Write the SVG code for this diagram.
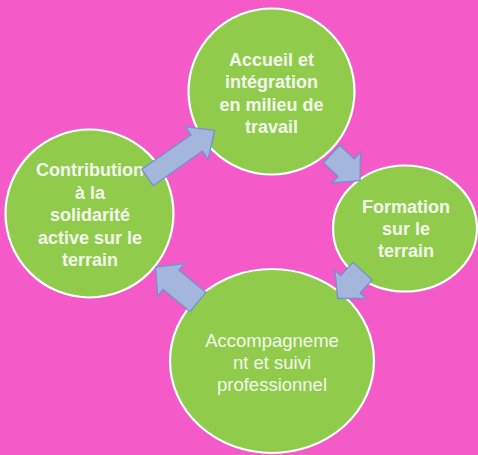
<svg xmlns="http://www.w3.org/2000/svg" width="478" height="455" viewBox="0 0 478 455">
  <style>
    .node { fill: #91CB4C; stroke: #FFFFFF; stroke-width: 2.2; }
    .lb { font-family: "Liberation Sans", Arial, sans-serif; font-size: 18px; font-weight: bold; fill: #F3F8EC; text-anchor: middle; }
    .lr { font-family: "Liberation Sans", Arial, sans-serif; font-size: 18.5px; fill: #F3F8EC; text-anchor: middle; }
    .arrow { fill: #A4B6DC; stroke: #7290D0; stroke-width: 1.3; stroke-linejoin: miter; }
  </style>
  <rect x="0" y="0" width="478" height="455" fill="#F45AC8"/>

  <g id="node-accueil">
    <circle class="node" cx="271.5" cy="91.5" r="83"/>
    <text class="lb" x="271.5" y="66">Accueil et</text>
    <text class="lb" x="271.5" y="88">intégration</text>
    <text class="lb" x="271.5" y="110.5">en milieu de</text>
    <text class="lb" x="271.5" y="133">travail</text>
  </g>

  <g id="node-formation">
    <ellipse class="node" cx="405" cy="228.5" rx="72" ry="63"/>
    <text class="lb" x="406" y="212.5">Formation</text>
    <text class="lb" x="406" y="234.5">sur le</text>
    <text class="lb" x="406" y="257">terrain</text>
  </g>

  <g id="node-accompagnement">
    <ellipse class="node" cx="272" cy="361" rx="102" ry="92"/>
    <text class="lr" x="272" y="346.5">Accompagneme</text>
    <text class="lr" x="272" y="369">nt et suivi</text>
    <text class="lr" x="272" y="391">professionnel</text>
  </g>

  <g id="node-contribution">
    <circle class="node" cx="89.5" cy="213.5" r="84"/>
    <text class="lb" x="90" y="176">Contribution</text>
    <text class="lb" x="90" y="198.5">à la</text>
    <text class="lb" x="90" y="221">solidarité</text>
    <text class="lb" x="90" y="243.5">active sur le</text>
    <text class="lb" x="90" y="266">terrain</text>
  </g>

  <g id="connectors">
    <path class="arrow" d="M0,-10 H60 V-20 L82,0 L60,20 V10 H0 Z" transform="translate(147.5,177.5) rotate(-35)"/>
    <path class="arrow" d="M0,-12 H20 V-21 L39,0 L20,21 V12 H0 Z" transform="translate(331.5,154) rotate(43)"/>
    <path class="arrow" d="M0,-13 H18 V-21 L37,0 L18,21 V13 H0 Z" transform="translate(362.5,271) rotate(132)"/>
    <path class="arrow" d="M0,-12.5 H35 V-21 L55,0 L35,21 V12.5 H0 Z" transform="translate(198,302) rotate(219.5)"/>
  </g>
</svg>
